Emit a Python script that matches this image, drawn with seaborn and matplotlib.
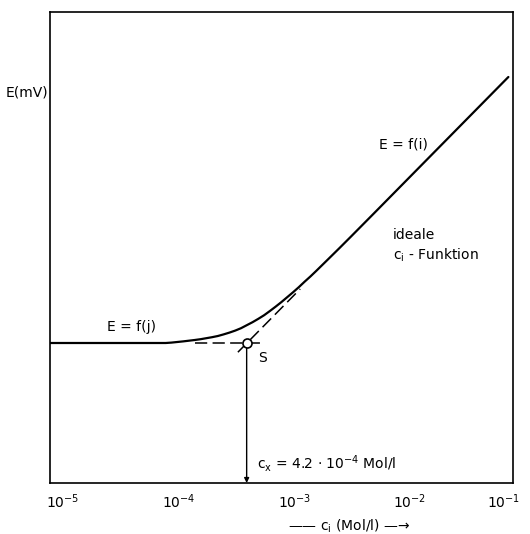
import matplotlib
matplotlib.use("Agg")
import matplotlib.pyplot as plt
import matplotlib.transforms as mtransforms
import seaborn as sns
from matplotlib.ticker import NullLocator

sns.set_style("white")
plt.rcParams['font.family'] = ['DejaVu Sans']
plt.rcParams['mathtext.default'] = 'regular'
plt.rcParams['text.color'] = 'black'
plt.rcParams['axes.labelcolor'] = 'black'
plt.rcParams['xtick.color'] = 'black'

# Electrode response curve E vs. c_i
conc = [1.0e-5, 1.0e-4, 1.12e-4, 1.41e-4, 1.78e-4, 2.0e-4, 2.51e-4, 2.82e-4,
        3.16e-4, 3.55e-4, 3.98e-4, 4.47e-4, 5.01e-4, 5.62e-4, 6.31e-4, 7.08e-4,
        7.94e-4, 8.91e-4, 1.0e-3, 1.12e-3, 1.26e-3, 1.41e-3, 1.58e-3, 1.78e-3,
        2.0e-3, 2.51e-3, 3.16e-3, 3.98e-3, 6.31e-3, 9.12e-2]
E_mV = [70.0, 70.0, 70.2, 70.8, 71.5, 71.9, 72.9, 73.5,
        74.3, 75.2, 76.2, 77.4, 78.9, 80.4, 82.1, 83.9,
        86.0, 88.2, 90.5, 92.9, 95.4, 97.9, 100.6, 103.3,
        106.1, 111.7, 117.4, 123.2, 134.9, 203.0]

# tangent construction (dashed): horizontal base line and Nernst slope line
base_conc = [1.8e-4, 6.75e-4]
base_E = [70.0, 70.0]
slope_conc = [4.2e-4, 1.45e-3]
slope_E = [65.4, 97.0]

# intersection point S as drawn
S_conc = 5.0e-4
S_E = 70.0

tick_vals = [1e-5, 1e-4, 1e-3, 1e-2, 1e-1]
tick_labels = ['10$^{-5}$', '10$^{-4}$', '10$^{-3}$', '10$^{-2}$', '10$^{-1}$']

fig = plt.figure(figsize=(5.3, 5.34), dpi=100)
ax = fig.add_axes([50/530, 1 - 483/534, 463/530, 471/534])

sns.lineplot(x=conc, y=E_mV, ax=ax, color='black', lw=1.6, sort=False,
             estimator=None)
ax.plot(base_conc, base_E, color='black', lw=1.1, dashes=(8, 3.5))
ax.plot(slope_conc, slope_E, color='black', lw=1.1, dashes=(8, 3.5))

# vertical arrow from S down to the concentration axis
ax.annotate('', xy=(S_conc, 0), xytext=(S_conc, S_E),
            arrowprops=dict(arrowstyle='-|>', lw=1.0, color='black',
                            mutation_scale=7, shrinkA=3, shrinkB=0))
ax.plot([S_conc], [S_E], 'o', ms=6.5, mfc='white', mec='black', mew=1.2,
        zorder=5)

ax.set_xscale('log')
ax.set_xlim(1e-5, 1e-1)
ax.set_ylim(0, 235.5)
ax.set_xticks(tick_vals)
ax.set_xticklabels(tick_labels, fontsize=10)
ax.xaxis.set_minor_locator(NullLocator())
ax.set_yticks([])
ax.tick_params(axis='x', length=0, pad=7)

# labels sit slightly right of their decade, as in the original drawing;
# the last one is pulled back so it stays inside the figure
labels = ax.get_xticklabels()
for lab in labels[:-1]:
    lab.set_horizontalalignment('left')
    lab.set_transform(lab.get_transform() +
                      mtransforms.ScaledTranslation(-4/100, 0, fig.dpi_scale_trans))
labels[-1].set_horizontalalignment('right')
labels[-1].set_transform(labels[-1].get_transform() +
                         mtransforms.ScaledTranslation(7/100, 0, fig.dpi_scale_trans))

for sp in ax.spines.values():
    sp.set_color('black')
    sp.set_linewidth(1.2)

ax.set_ylabel('E(mV)', rotation=0, ha='right', va='center', fontsize=10)
ax.yaxis.set_label_coords(-0.004, 0.83)
ax.set_xlabel('—— c$_i$ (Mol/l) —→', fontsize=10)
ax.xaxis.set_label_coords(0.646, -0.091)
ax.xaxis.label.set_va('center')

ax.text(1.12e-2, 169, 'E = f(i)', ha='center', va='center', fontsize=10)
ax.text(9.18e-3, 124, 'ideale', ha='left', va='center', fontsize=10)
ax.text(9.18e-3, 114, 'c$_i$ - Funktion', ha='left', va='center', fontsize=10)
ax.text(5.1e-5, 78, 'E = f(j)', ha='center', va='center', fontsize=10)
ax.text(6.8e-4, 62.5, 'S', ha='center', va='center', fontsize=10)
ax.text(6.14e-4, 10, 'c$_x$ = 4.2 · 10$^{-4}$ Mol/l', ha='left', va='center',
        fontsize=10)

fig.savefig('out.png', dpi=100)
